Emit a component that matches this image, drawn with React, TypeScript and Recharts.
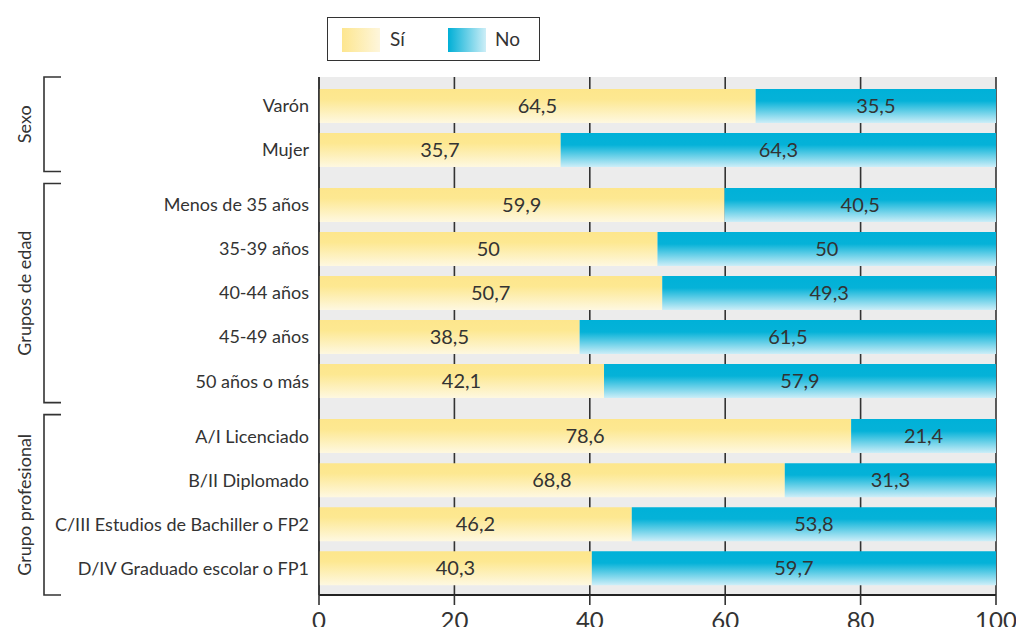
import React from 'react';
import { BarChart, Bar, XAxis, YAxis, CartesianGrid, LabelList } from 'recharts';

// Categories, grouped
const groupNames = ['Sexo', 'Grupos de edad', 'Grupo profesional'];
const sexoLabels = ['Varón', 'Mujer'];
const edadLabels = ['Menos de 35 años', '35-39 años', '40-44 años', '45-49 años', '50 años o más'];
const profesionalLabels = [
  'A/I Licenciado',
  'B/II Diplomado',
  'C/III Estudios de Bachiller o FP2',
  'D/IV Graduado escolar o FP1',
];

// Series values (%)
const siValues = [64.5, 35.7, 59.9, 50, 50.7, 38.5, 42.1, 78.6, 68.8, 46.2, 40.3];
const noValues = [35.5, 64.3, 40.5, 50, 49.3, 61.5, 57.9, 21.4, 31.3, 53.8, 59.7];

const xTicks = [0, 20, 40, 60, 80, 100];

// Layout constants
const W = 1016;
const H = 627;
const M_TOP = 77;
const M_RIGHT = 20;
const Y_AXIS_W = 319;
const X_AXIS_H = 32;
const GROUP_GAP = 0.25;
const Y_DOMAIN: [number, number] = [-0.66, 11.11];

const groups = [sexoLabels, edadLabels, profesionalLabels];

type Row = { label: string; pos: number; si: number; no: number; group: number };
const rows: Row[] = [];
{
  let k = 0;
  groups.forEach((labels, g) => {
    labels.forEach((label) => {
      rows.push({ label, pos: k + g * GROUP_GAP, si: siValues[k], no: noValues[k], group: g });
      k += 1;
    });
  });
}
const positions = rows.map((r) => r.pos);
const labelAt = (v: number) => {
  const r = rows.find((row) => Math.abs(row.pos - v) < 1e-6);
  return r ? r.label : '';
};

const fmt = (v: any) => String(v).replace('.', ',');

// Pixel mapping of the category axis, used for the group brackets
const plotTop = M_TOP;
const plotBottom = H - X_AXIS_H;
const yPix = (v: number) =>
  plotTop + ((v - Y_DOMAIN[0]) / (Y_DOMAIN[1] - Y_DOMAIN[0])) * (plotBottom - plotTop);

const FONT = 'Lato, "Noto Sans", sans-serif';
const INK = '#333333';

function GroupBrackets() {
  const items = groups.map((_, g) => {
    const gr = rows.filter((r) => r.group === g);
    const first = gr[0].pos;
    const last = gr[gr.length - 1].pos;
    const prev = g > 0 ? rows.filter((r) => r.group === g - 1).slice(-1)[0].pos : null;
    const next = g < groups.length - 1 ? rows.filter((r) => r.group === g + 1)[0].pos : null;
    const top = prev === null ? plotTop : (yPix(prev) + yPix(first)) / 2 + 6;
    const bottom = next === null ? plotBottom : (yPix(last) + yPix(next)) / 2 - 6;
    return { top, bottom, name: groupNames[g] };
  });
  return (
    <svg
      width={W}
      height={H}
      style={{ position: 'absolute', left: 0, top: 0, pointerEvents: 'none' }}
    >
      {items.map((it, i) => {
        const cy = (it.top + it.bottom) / 2;
        return (
          <g key={i}>
            <path
              d={`M61,${it.top} H44 V${it.bottom} H61`}
              fill="none"
              stroke={INK}
              strokeWidth={1.6}
            />
            <text
              x={24}
              y={cy}
              transform={`rotate(-90 24 ${cy})`}
              textAnchor="middle"
              dominantBaseline="central"
              fontSize={18}
              fontFamily={FONT}
              fill={INK}
            >
              {it.name}
            </text>
          </g>
        );
      })}
    </svg>
  );
}

function LegendBox() {
  const swatch = (bg: string): React.CSSProperties => ({
    position: 'absolute',
    width: 38,
    height: 24,
    top: 10,
    background: bg,
  });
  const txt: React.CSSProperties = {
    position: 'absolute',
    top: 0,
    lineHeight: '42px',
    fontSize: 19,
    color: INK,
    fontFamily: FONT,
  };
  return (
    <div
      style={{
        position: 'absolute',
        left: 327,
        top: 17,
        width: 211,
        height: 42,
        border: `1.5px solid ${INK}`,
        background: '#fff',
      }}
    >
      <div style={{ ...swatch('linear-gradient(to right, #fde68f, #fef6dc)'), left: 14 }} />
      <div style={{ ...txt, left: 62 }}>Sí</div>
      <div style={{ ...swatch('linear-gradient(to right, #00afd6, #cdeef7)'), left: 120 }} />
      <div style={{ ...txt, left: 167 }}>No</div>
    </div>
  );
}

export default function App() {
  return (
    <div style={{ position: 'absolute', left: 0, top: 0, width: W, height: H, background: '#fff', overflow: 'hidden' }}>
      <BarChart
        width={W}
        height={H}
        data={rows}
        layout="vertical"
        margin={{ top: M_TOP, right: M_RIGHT, bottom: 0, left: 0 }}
        style={{ fontFamily: FONT }}
      >
        <defs>
          <linearGradient id="gradSi" x1="0" y1="0" x2="0" y2="1">
            <stop offset="0" stopColor="#fde68c" />
            <stop offset="0.3" stopColor="#fde891" />
            <stop offset="1" stopColor="#fef8e1" />
          </linearGradient>
          <linearGradient id="gradNo" x1="0" y1="0" x2="0" y2="1">
            <stop offset="0" stopColor="#00b1d8" />
            <stop offset="0.35" stopColor="#05b2d8" />
            <stop offset="1" stopColor="#cdeef8" />
          </linearGradient>
        </defs>
        <CartesianGrid
          horizontal={false}
          vertical={true}
          fill="#ececec"
          stroke={INK}
          strokeWidth={1.6}
        />
        <XAxis
          type="number"
          domain={[0, 100]}
          ticks={xTicks}
          allowDataOverflow
          height={X_AXIS_H}
          axisLine={{ stroke: '#222', strokeWidth: 2.2 }}
          tickLine={{ stroke: INK, strokeWidth: 1.6 }}
          tickSize={10}
          tickMargin={7}
          tick={{ fill: INK, fontSize: 24, fontFamily: FONT }}
        />
        <XAxis
          xAxisId="top"
          orientation="top"
          type="number"
          domain={[0, 100]}
          height={0}
          tick={false}
          tickLine={false}
          axisLine={{ stroke: INK, strokeWidth: 1.6 }}
        />
        <YAxis
          type="number"
          dataKey="pos"
          domain={Y_DOMAIN}
          allowDataOverflow
          ticks={positions}
          interval={0}
          width={Y_AXIS_W}
          tickFormatter={labelAt}
          axisLine={{ stroke: INK, strokeWidth: 1.6 }}
          tickLine={false}
          tickMargin={4}
          tick={{ fill: INK, fontSize: 18, fontFamily: FONT }}
        />
        <Bar dataKey="si" stackId="s" barSize={34} fill="url(#gradSi)" isAnimationActive={false}>
          <LabelList
            dataKey="si"
            position="center"
            formatter={fmt}
            fill={INK}
            fontSize={20}
            fontFamily={FONT}
          />
        </Bar>
        <Bar dataKey="no" stackId="s" barSize={34} fill="url(#gradNo)" isAnimationActive={false}>
          <LabelList
            dataKey="no"
            position="center"
            formatter={fmt}
            fill={INK}
            fontSize={20}
            fontFamily={FONT}
          />
        </Bar>
      </BarChart>
      <GroupBrackets />
      <LegendBox />
    </div>
  );
}
